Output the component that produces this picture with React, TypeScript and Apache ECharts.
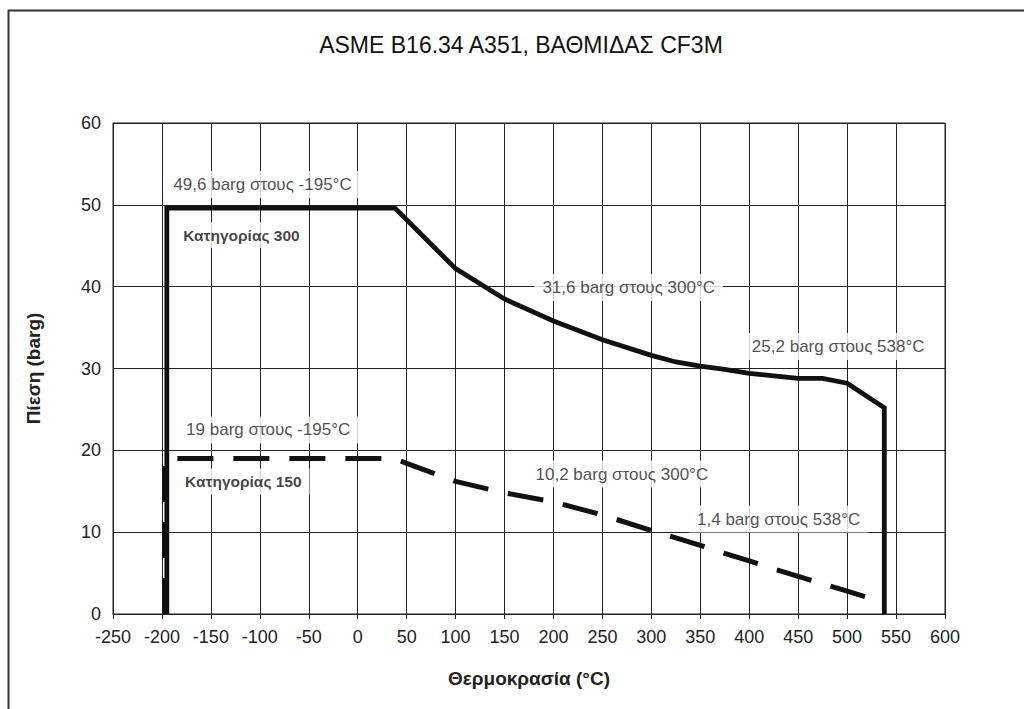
import React, { useEffect, useRef } from "react";
import * as echarts from "echarts";

const titleText = "ASME B16.34 A351, ΒΑΘΜΙΔΑΣ CF3M";
const xName = "Θερμοκρασία (°C)";
const yName = "Πίεση (barg)";

// Class 300 (solid)
const class300X = [-195, -195, 38, 100, 150, 200, 250, 300, 325, 350, 375, 400, 425, 450, 475, 500, 538, 538];
const class300Y = [0, 49.6, 49.6, 42.2, 38.5, 35.8, 33.5, 31.6, 30.8, 30.3, 29.9, 29.4, 29.1, 28.8, 28.8, 28.2, 25.2, 0];

// Class 150 (dashed)
const class150X = [-197, -197, 38, 50, 100, 150, 200, 250, 300, 325, 350, 375, 400, 425, 450, 475, 500, 538];
const class150Y = [0, 19, 19, 18.4, 16.2, 14.8, 13.7, 12.1, 10.2, 9.3, 8.4, 7.4, 6.5, 5.5, 4.6, 3.7, 2.8, 1.4];

// Annotations (text, anchor x, anchor y in data units, bold)
const noteTexts = [
  "49,6 barg στους -195°C",
  "Κατηγορίας 300",
  "19 barg στους -195°C",
  "Κατηγορίας 150",
  "31,6 barg στους 300°C",
  "25,2 barg στους 538°C",
  "10,2 barg στους 300°C",
  "1,4 barg στους 538°C",
];
const noteX = [-197, -187, -184, -185, 180, 394, 173, 338];
const noteY = [52.5, 46.3, 22.5, 16.2, 39.9, 32.7, 17.1, 11.6];
const noteBold = [false, true, false, true, false, false, false, false];

const xMin = -250;
const xMax = 600;
const xStep = 50;
const yMin = 0;
const yMax = 60;
const yStep = 10;

const FONT = "'Liberation Sans', Arial, sans-serif";
const INK = "#222";

export default function App() {
  const ref = useRef<HTMLDivElement>(null);

  useEffect(() => {
    if (!ref.current) return;
    const chart = echarts.init(ref.current, undefined, { renderer: "svg" });

    const s300 = class300X.map((x, i) => [x, class300Y[i]]);
    const s150 = class150X.map((x, i) => [x, class150Y[i]]);
    const notes = noteTexts.map((t, i) => ({
      value: [noteX[i], noteY[i]],
      name: t,
      label: {
        fontWeight: noteBold[i] ? "bold" : "normal",
        fontSize: noteBold[i] ? 15.5 : 17,
        color: noteBold[i] ? "#111" : INK,
      },
    }));

    chart.setOption({
      animation: false,
      backgroundColor: "#fff",
      textStyle: { fontFamily: FONT },
      title: {
        text: titleText,
        left: 516,
        textAlign: "center",
        top: 28,
        textStyle: { fontFamily: FONT, fontSize: 23, fontWeight: "normal", color: "#111" },
      },
      graphic: [
        {
          type: "rect",
          left: 6,
          top: 8,
          shape: { width: 1100, height: 800 },
          style: { fill: "none", stroke: "#333", lineWidth: 2 },
          silent: true,
        },
      ],
      grid: {
        left: 113,
        right: 79,
        top: 123,
        bottom: 95,
        show: true,
        borderColor: INK,
        borderWidth: 1,
        backgroundColor: "transparent",
      },
      xAxis: {
        type: "value",
        min: xMin,
        max: xMax,
        interval: xStep,
        name: xName,
        nameLocation: "middle",
        nameGap: 55,
        nameTextStyle: { fontFamily: FONT, fontSize: 19, fontWeight: "bold", color: INK },
        axisLine: { show: true, onZero: false, lineStyle: { color: INK, width: 1 } },
        axisTick: { show: true, inside: false, length: 5, lineStyle: { color: INK } },
        axisLabel: { fontFamily: FONT, fontSize: 18, color: INK, margin: 14 },
        splitLine: { show: true, lineStyle: { color: INK, width: 1 } },
      },
      yAxis: {
        type: "value",
        min: yMin,
        max: yMax,
        interval: yStep,
        name: yName,
        nameLocation: "middle",
        nameGap: 70,
        nameTextStyle: { fontFamily: FONT, fontSize: 19, fontWeight: "bold", color: INK },
        axisLine: { show: true, lineStyle: { color: INK, width: 1 } },
        axisTick: { show: true, inside: false, length: 5, lineStyle: { color: INK } },
        axisLabel: { fontFamily: FONT, fontSize: 18, color: INK, margin: 12 },
        splitLine: { show: true, lineStyle: { color: INK, width: 1 } },
      },
      series: [
        {
          type: "scatter",
          data: notes,
          symbolSize: 1,
          itemStyle: { color: "rgba(0,0,0,0)" },
          silent: true,
          z: 3,
          label: {
            show: true,
            position: "right",
            distance: 0,
            formatter: (p: any) => p.name,
            fontFamily: FONT,
            backgroundColor: "#fff",
            padding: [5, 8],
          },
        },
        {
          type: "line",
          name: "Κατηγορίας 300",
          data: s300,
          showSymbol: false,
          symbol: "none",
          z: 5,
          lineStyle: { color: "#111", width: 4.8, cap: "butt", join: "miter" },
        },
        {
          type: "line",
          name: "Κατηγορίας 150",
          data: s150,
          showSymbol: false,
          symbol: "none",
          z: 4,
          lineStyle: { color: "#111", width: 5, type: [36, 20], cap: "butt", join: "miter" },
        },
      ],
    });

    return () => chart.dispose();
  }, []);

  return (
    <div
      ref={ref}
      style={{ position: "absolute", left: 0, top: 0, width: 1024, height: 709 }}
    />
  );
}
